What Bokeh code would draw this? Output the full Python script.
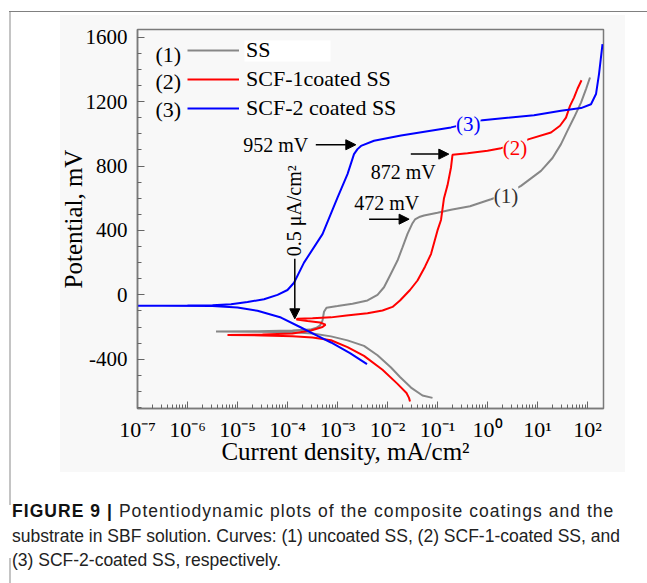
from bokeh.plotting import figure
from bokeh.models import (FixedTicker, Label, Arrow, NormalHead, Legend, LegendItem,
                          BoxAnnotation, Range1d, Div)
from bokeh.layouts import column
from bokeh.embed import file_html
from bokeh.resources import INLINE

# ---------------- data ----------------
# log10 of current density (mA/cm^2) and potential (mV), in scan order
ss_log_i = [-1.10, -1.30, -1.53, -1.75, -1.93, -2.20, -2.47, -2.80, -3.13, -3.50, -3.90, -4.60, -5.43,
            -4.60, -3.90, -3.55, -3.42, -3.35, -3.30, -3.27, -3.22, -3.00, -2.70, -2.40, -2.20, -2.07,
            -1.95, -1.80, -1.70, -1.60, -1.50, -1.45, -1.35, -1.27, -1.00, -0.73, -0.35, 0.07, 0.40,
            0.67, 1.07, 1.30, 1.47, 1.60, 1.73, 1.87, 1.97, 2.05]
ss_E = [-640, -625, -576, -510, -451, -375, -317, -283, -258, -240, -232, -229, -228,
        -226, -222, -216, -205, -190, -160, -105, -80, -70, -55, -35, 0, 47,
        120, 213, 295, 379, 445, 468, 485, 493, 510, 528, 550, 594, 630,
        677, 770, 850, 936, 1020, 1101, 1194, 1278, 1350]

scf1_log_i = [-1.55, -1.57, -1.62, -1.80, -2.10, -2.47, -2.80, -3.13, -3.50, -3.90, -4.50, -5.20,
              -4.50, -3.90, -3.53, -3.30, -3.24, -3.35, -3.60, -3.82, -3.80, -3.50, -3.13, -2.82,
              -2.40, -2.10, -1.90, -1.75, -1.55, -1.40, -1.25, -1.13, -1.00, -0.93, -0.87, -0.80,
              -0.73, -0.70, -0.40, 0.00, 0.27, 0.55, 0.83, 1.27, 1.45, 1.57, 1.65, 1.73, 1.80, 1.88]
scf1_E = [-662, -640, -610, -553, -465, -379, -325, -282, -265, -257, -252, -250,
          -247, -240, -222, -200, -185, -172, -162, -153, -148, -146, -140, -128,
          -115, -97, -75, -35, 30, 89, 175, 253, 400, 465, 600, 680,
          791, 870, 880, 895, 911, 935, 967, 1008, 1050, 1101, 1174, 1225, 1280, 1333]

scf2_log_i = [-2.41, -2.75, -3.13, -3.40, -3.73, -4.13, -4.60, -5.00, -5.50, -6.50, -7.00,
              -6.00, -5.50, -5.13, -4.80, -4.47, -4.20, -4.00, -3.87, -3.67, -3.30, -3.00, -2.80,
              -2.67, -2.60, -2.53, -2.27, -1.73, -0.73, -0.10, 0.93, 1.47, 1.87, 2.07, 2.17, 2.23, 2.30]
scf2_E = [-430, -362, -296, -255, -203, -141, -99, -78, -70, -68, -68,
          -67, -64, -58, -45, -27, 0, 30, 75, 200, 377, 604, 750,
          874, 905, 925, 957, 990, 1040, 1085, 1116, 1143, 1160, 1184, 1247, 1371, 1557]

series_names = ["SS", "SCF-1coated SS", "SCF-2 coated SS"]
series_tags = ["(1)", "(2)", "(3)"]
series_colors = ["#878787", "#ff0000", "#0000ff"]

x_ticks = [1e-7, 1e-6, 1e-5, 1e-4, 1e-3, 1e-2, 1e-1, 1.0, 10.0, 100.0]
x_tick_labels = ["10\u207b\u2077", "10\u207b\u2076", "10\u207b\u2075", "10\u207b\u2074", "10\u207b\u00b3",
                 "10\u207b\u00b2", "10\u207b\u00b9", "10\u2070", "10\u00b9", "10\u00b2"]
y_ticks = [-400, 0, 400, 800, 1200, 1600]
y_tick_labels = ["-400", "0", "400", "800", "1200", "1600"]

caption_bold = "FIGURE 9 |"
caption_lines = ["Potentiodynamic plots of the composite coatings and the",
                 "substrate in SBF solution. Curves: (1) uncoated SS, (2) SCF-1-coated SS, and",
                 "(3) SCF-2-coated SS, respectively."]

SERIF = "Liberation Serif"
BG = "#f8f8f8"

p = figure(width=647, height=490, x_axis_type="log",
           x_range=Range1d(1e-7, 10 ** 2.32), y_range=Range1d(-706, 1648),
           output_backend="svg", toolbar_location=None,
           min_border_left=137, min_border_right=44, min_border_top=29, min_border_bottom=82)
p.background_fill_color = BG
p.border_fill_color = BG
p.outline_line_color = "#7a7a7a"
p.outline_line_width = 1.5
p.xgrid.visible = False
p.ygrid.visible = False

def ten(vals):
    return [10 ** v for v in vals]

r1 = p.line(ten(ss_log_i), ss_E, line_color=series_colors[0], line_width=2)
r2 = p.line(ten(scf1_log_i), scf1_E, line_color=series_colors[1], line_width=2)
r3 = p.line(ten(scf2_log_i), scf2_E, line_color=series_colors[2], line_width=2)

# axes
for ax in (p.xaxis[0], p.yaxis[0]):
    ax.axis_line_color = "#7a7a7a"
    ax.axis_line_width = 1.5
    ax.major_tick_line_color = "#666666"
    ax.minor_tick_line_color = "#666666"
    ax.major_tick_in = 7
    ax.major_tick_out = 0
    ax.minor_tick_in = 4
    ax.minor_tick_out = 0
    ax.major_label_text_font = SERIF
    ax.major_label_text_color = "black"
    ax.axis_label_text_font = SERIF
    ax.axis_label_text_font_style = "normal"
    ax.axis_label_text_font_size = "25px"
    ax.axis_label_text_color = "black"

x_minor = [k * t for t in x_ticks[:-1] for k in range(2, 10)]
p.xaxis[0].ticker = FixedTicker(ticks=x_ticks, minor_ticks=x_minor)
p.xaxis[0].major_label_overrides = dict(zip(x_ticks, x_tick_labels))
p.xaxis[0].major_label_text_font_size = "22px"
p.xaxis[0].major_label_standoff = 8
p.xaxis[0].axis_label = "Current density, mA/cm\u00b2" + "\u00a0" * 8
p.xaxis[0].axis_label_standoff = -7
p.yaxis[0].ticker = FixedTicker(ticks=y_ticks, minor_ticks=list(range(-700, 1700, 100)))
p.yaxis[0].major_label_overrides = dict(zip(y_ticks, y_tick_labels))
p.yaxis[0].major_label_text_font_size = "21px"
p.yaxis[0].major_label_standoff = 10
p.yaxis[0].axis_label = "Potential, mV"
p.yaxis[0].axis_label_standoff = -4

# legend
p.add_layout(BoxAnnotation(left=107, right=193, top=368, bottom=347,
                           left_units="screen", right_units="screen", top_units="screen",
                           bottom_units="screen", fill_color="white", fill_alpha=1,
                           line_alpha=0, level="underlay"))
legend = Legend(items=[LegendItem(label=n, renderers=[r]) for n, r in zip(series_names, [r1, r2, r3])],
                location=(50, 287), glyph_width=52, glyph_height=24, label_height=24,
                label_standoff=7, spacing=3, padding=0, margin=0,
                border_line_alpha=0, background_fill_alpha=0,
                label_text_font=SERIF, label_text_font_size="22px", label_text_color="black")
p.add_layout(legend)
for tag, yy in zip(series_tags, [354, 326.6, 299.2]):
    p.add_layout(Label(x=18, y=yy, x_units="screen", y_units="screen", text=tag,
                       text_align="left", text_baseline="middle",
                       text_font=SERIF, text_font_size="22px", text_color="black"))

# curve tags on the lines
tag_pos = [(10 ** 0.37, 611, "#333333"), (10 ** 0.55, 911, "#ff0000"), (10 ** -0.384, 1060, "#0000ff")]
for tag, (tx, ty, tc) in zip(series_tags, tag_pos):
    p.add_layout(Label(x=tx, y=ty, text=tag, text_align="center", text_baseline="middle",
                       text_font=SERIF, text_font_size="21px", text_color=tc,
                       background_fill_color=BG, background_fill_alpha=1))

# annotations
ann_text = ["952 mV", "872 mV", "472 mV"]
ann_pos = [(10 ** -4.234, 932), (10 ** -1.684, 766), (10 ** -2.014, 573)]
for t, (ax_, ay_) in zip(ann_text, ann_pos):
    p.add_layout(Label(x=ax_, y=ay_, text=t, text_align="center", text_baseline="middle",
                       text_font=SERIF, text_font_size="20px", text_color="black"))

arrows = [((10 ** -3.434, 932), (10 ** -2.634, 932)),
          ((10 ** -1.534, 874), (10 ** -0.774, 874)),
          ((10 ** -2.368, 470), (10 ** -1.568, 470)),
          ((10 ** -3.854, 224), (10 ** -3.854, -149))]
for (xs, ys), (xe, ye) in arrows:
    p.add_layout(Arrow(end=NormalHead(size=10, fill_color="black", line_color="black"),
                       x_start=xs, y_start=ys, x_end=xe, y_end=ye,
                       line_color="black", line_width=1.5))
p.add_layout(Label(x=10 ** -3.868, y=522, text="0.5 \u03bcA/cm\u00b2", angle=1.5708,
                   text_align="center", text_baseline="middle",
                   text_font=SERIF, text_font_size="20px", text_color="black"))

# page decoration and caption (HTML, positioned on the page)
def rect(l, t, w, h, c):
    return (f'<div style="position:fixed;left:{l}px;top:{t}px;width:{w}px;height:{h}px;'
            f'background:{c};"></div>')

deco = "".join([
    rect(0, 0, 60, 583, "white"), rect(625, 0, 22, 583, "white"),
    rect(0, 0, 647, 15, "white"), rect(0, 472, 647, 111, "white"),
    rect(9, 11, 638, 1, "#808080"),
    rect(9, 12, 2, 493, "#c4c4c4"), rect(9, 558, 2, 25, "#c4c4c4"),
])
cap = ('<div style="position:fixed;left:12px;top:499px;width:640px;'
       'font-family:\'Liberation Sans\',Arial,sans-serif;font-size:17.5px;line-height:24.5px;'
       'color:#222;white-space:nowrap;">'
       f'<span style="letter-spacing:1.05px;"><b style="color:#111;">{caption_bold}</b> {caption_lines[0]}</span><br>'
       f'{caption_lines[1]}<br>{caption_lines[2]}</div>')
div = Div(text=deco + cap, width=647, height=80)

layout = column(p, div, spacing=0)
open("out.html", "w").write(file_html(layout, INLINE))
